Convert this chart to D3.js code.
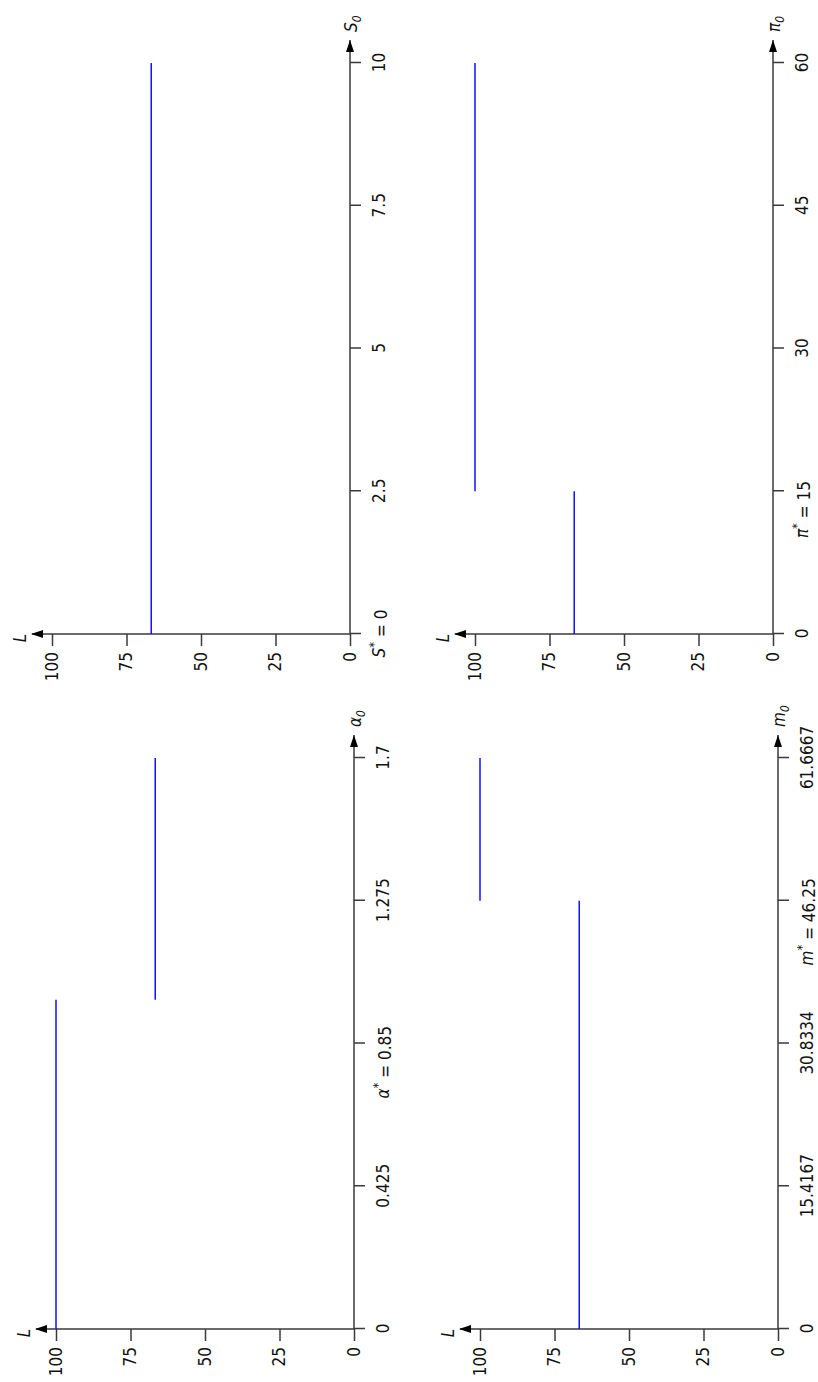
<!DOCTYPE html>
<html>
<head>
<meta charset="utf-8">
<script src="https://cdn.jsdelivr.net/npm/d3@7"></script>
<style>
  body { margin: 0; background: #fff; }
  svg { display: block; }
</style>
</head>
<body>
<svg id="chart" width="818" height="1382"></svg>
<script>
// values
let lTicks = [0, 25, 50, 75, 100];

let sTicks = [0, 2.5, 5, 7.5, 10],
    sTickLabels = ["0", "2.5", "5", "7.5", "10"],
    sSteps = [[0, 10, 66.7]];

let piTicks = [0, 15, 30, 45, 60],
    piTickLabels = ["0", "15", "30", "45", "60"],
    piSteps = [[0, 15, 66.7], [15, 60, 100]];

let alphaTicks = [0, 0.425, 0.85, 1.275, 1.7],
    alphaTickLabels = ["0", "0.425", "0.85", "1.275", "1.7"],
    alphaSteps = [[0, 0.98, 100], [0.98, 1.7, 66.7]];

let mTicks = [0, 15.4167, 30.8334, 46.25, 61.6667],
    mTickLabels = ["0", "15.4167", "30.8334", "46.25", "61.6667"],
    mSteps = [[0, 46.25, 66.7], [46.25, 61.6667, 100]];

let svg = d3.select("#chart"),
    font = "'Liberation Sans Narrow', 'DejaVu Sans Condensed', sans-serif",
    axisColor = "#3a3a3a",
    xLen = 571,
    lLen = 298;

let panels = [
    {ticks: sTicks, labels: sTickLabels, steps: sSteps, name: "S", star: 0, centered: true, ox: 350, oy: 634},
    {ticks: piTicks, labels: piTickLabels, steps: piSteps, name: "π", star: 15, centered: false, ox: 773, oy: 634},
    {ticks: alphaTicks, labels: alphaTickLabels, steps: alphaSteps, name: "α", star: 0.85, centered: false, ox: 354, oy: 1329},
    {ticks: mTicks, labels: mTickLabels, steps: mSteps, name: "m", star: 46.25, centered: false, ox: 778, oy: 1329}
];

function drawPanel(p) {
    let g = svg.append("g")
        .attr("transform", "translate(" + p.ox + "," + p.oy + ") rotate(-90)");

    let x = d3.scaleLinear()
        .domain([p.ticks[0], p.ticks[p.ticks.length - 1]])
        .range([0, xLen]);

    let y = d3.scaleLinear()
        .domain([0, 100])
        .range([0, -lLen]);

    let xAxis = g.append("g")
        .call(d3.axisBottom(x)
            .tickValues(p.ticks)
            .tickSize(11)
            .tickPadding(12)
            .tickFormat((d, i) => p.labels[i]));

    let yAxis = g.append("g")
        .call(d3.axisLeft(y)
            .tickValues(lTicks)
            .tickSize(12)
            .tickPadding(6)
            .tickFormat(d => d));

    for(let ax of [xAxis, yAxis]) {
        ax.attr("font-family", font)
            .attr("font-size", 17)
            .attr("color", axisColor);
        ax.select(".domain").remove();
        ax.selectAll(".tick line").attr("stroke-width", 1.5);
        ax.selectAll(".tick text").attr("fill", "#111");
    }

    // the starred label, e.g. "α* = 0.85"
    xAxis.selectAll(".tick")
        .filter(d => d === p.star)
        .select("text")
        .each(function() {
            let t = d3.select(this),
                num = t.text();
            t.text("");
            t.append("tspan").attr("font-style", "italic").text(p.name);
            t.append("tspan").attr("dy", "-0.55em").attr("font-size", 13).text("*");
            t.append("tspan").attr("dy", "0.55em").text(" = ");
            let numSpan = t.append("tspan").text(num);
            let total = this.getComputedTextLength(),
                numW = numSpan.node().getComputedTextLength();
            if(p.centered) {
                t.attr("text-anchor", "middle");
            } else {
                t.attr("text-anchor", "start")
                    .attr("x", -(total - numW / 2));
            }
        });

    // axis lines with arrow heads
    g.append("line")
        .attr("x1", 0).attr("y1", 0)
        .attr("x2", xLen + 23).attr("y2", 0)
        .attr("stroke", axisColor)
        .attr("stroke-width", 1.5);
    g.append("path")
        .attr("d", "M" + (xLen + 23) + ",0L" + (xLen + 11) + ",-4L" + (xLen + 11) + ",4Z")
        .attr("fill", "#000");

    g.append("line")
        .attr("x1", 0).attr("y1", 0)
        .attr("x2", 0).attr("y2", -(lLen + 20))
        .attr("stroke", axisColor)
        .attr("stroke-width", 1.5);
    g.append("path")
        .attr("d", "M0," + -(lLen + 21) + "L-4," + -(lLen + 9) + "L4," + -(lLen + 9) + "Z")
        .attr("fill", "#000");

    // axis names
    let xName = g.append("text")
        .attr("x", xLen + 31)
        .attr("y", 7)
        .attr("font-family", font)
        .attr("font-size", 17)
        .attr("font-style", "italic")
        .attr("fill", "#111");
    xName.append("tspan").text(p.name);
    xName.append("tspan").attr("dy", 4).attr("font-size", 12).text("0");

    g.append("text")
        .attr("x", -4)
        .attr("y", -(lLen + 26))
        .attr("text-anchor", "middle")
        .attr("font-family", font)
        .attr("font-size", 17)
        .attr("font-style", "italic")
        .attr("fill", "#111")
        .text("L");

    // step function
    g.append("g")
        .selectAll("line")
        .data(p.steps)
        .enter()
        .append("line")
        .attr("x1", d => x(d[0]))
        .attr("x2", d => x(d[1]))
        .attr("y1", d => y(d[2]))
        .attr("y2", d => y(d[2]))
        .attr("stroke", "#1010ff")
        .attr("stroke-width", 1.5);
}

for(let p of panels) {
    drawPanel(p);
}
</script>
</body>
</html>
